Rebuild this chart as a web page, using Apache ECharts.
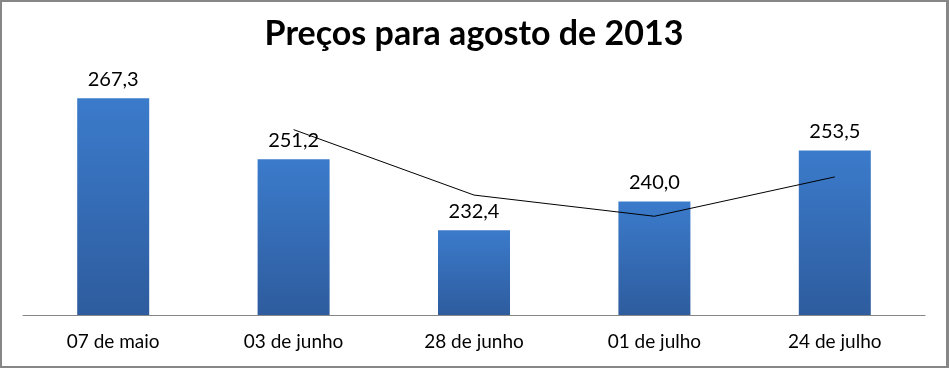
<!DOCTYPE html>
<html>
<head>
<meta charset="utf-8">
<script src="https://cdn.jsdelivr.net/npm/echarts@6/dist/echarts.min.js"></script>
<style>
html,body{margin:0;padding:0;background:#fff;}
#c{width:949px;height:368px;box-sizing:border-box;border:2px solid #878787;border-right-width:3px;}
</style>
</head>
<body>
<div id="c"></div>
<script>
var categories = ['07 de maio', '03 de junho', '28 de junho', '01 de julho', '24 de julho'];
var priceValues = [267.3, 251.2, 232.4, 240.0, 253.5];
var trendValues = [null, 259.0, 241.7, 236.1, 246.5];
var titleText = 'Preços para agosto de 2013';

var chart = echarts.init(document.getElementById('c'), null, {renderer: 'canvas'});
var font = 'Lato, "Open Sans", sans-serif';
chart.setOption({
  animation: false,
  title: {
    text: titleText,
    left: 'center',
    top: 10,
    textStyle: {fontFamily: font, fontWeight: 'bold', fontSize: 34, color: '#000'}
  },
  grid: {left: 21, right: 21, top: 86, bottom: 51, containLabel: false},
  xAxis: {
    type: 'category',
    data: categories,
    axisLine: {lineStyle: {color: '#868686', width: 1}},
    axisTick: {show: false},
    axisLabel: {fontFamily: font, fontSize: 19, color: '#000', margin: 17}
  },
  yAxis: {
    type: 'value',
    min: 210,
    max: 270,
    show: false,
    splitLine: {show: false}
  },
  series: [
    {
      type: 'bar',
      data: priceValues,
      barWidth: 72,
      itemStyle: {
        color: new echarts.graphic.LinearGradient(0, 0, 0, 1, [
          {offset: 0, color: '#3B7BCB'},
          {offset: 1, color: '#2E5C9E'}
        ])
      },
      label: {
        show: true,
        position: 'top',
        distance: 9,
        fontFamily: font,
        fontSize: 20,
        color: '#000',
        formatter: function (p) { return p.value.toFixed(1).replace('.', ','); }
      }
    },
    {
      type: 'line',
      data: trendValues,
      symbol: 'none',
      lineStyle: {color: '#000', width: 1},
      z: 5
    }
  ]
});
</script>
</body>
</html>
